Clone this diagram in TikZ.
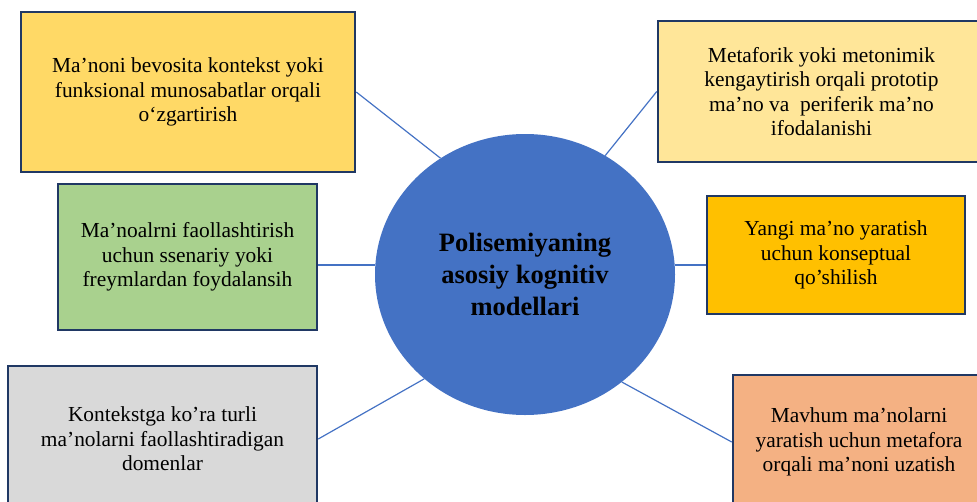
\documentclass[tikz,border=0pt]{standalone}
\usepackage{fontspec}
\setmainfont{Liberation Serif}
\usepackage{tikz}
\usetikzlibrary{shapes.geometric}

\definecolor{boxline}{HTML}{203864}
\definecolor{hubblue}{HTML}{4472C4}
\definecolor{sandfill}{HTML}{FFD966}
\definecolor{creamfill}{HTML}{FFE699}
\definecolor{leaffill}{HTML}{A9D18E}
\definecolor{amberfill}{HTML}{FFC000}
\definecolor{greyfill}{HTML}{D9D9D9}
\definecolor{peachfill}{HTML}{F4B183}

\begin{document}
\begin{tikzpicture}[
    x=1pt, y=-1pt,
    font=\fontsize{21.4}{24.5}\selectfont,
    boxst/.style={draw=boxline, line width=2.5pt, rectangle,
                  align=center, inner sep=0pt},
    hubst/.style={ellipse, fill=hubblue, draw=none,
                  minimum width=300pt, minimum height=281pt, inner sep=0pt,
                  align=center, font=\fontsize{26.5}{32}\selectfont\bfseries},
    link/.style={draw=hubblue, line width=1.2pt},
  ]
  \clip (0,0) rectangle (977,501);
  %% Hub
  \node[hubst] (hub) at (525,274.5) {Polisemiyaning\\ asosiy kognitiv\\ modellari};
  %% Left column (top to bottom)
  \node[boxst, fill=sandfill, minimum width=334pt, minimum height=160pt] (ctx) at (188,92)
    {Ma’noni bevosita kontekst yoki\\ funksional munosabatlar orqali\\ o‘zgartirish};
  \node[boxst, fill=leaffill, minimum width=259pt, minimum height=146pt] (frame) at (187.5,257)
    {Ma’noalrni faollashtirish\\ uchun ssenariy yoki\\ freymlardan foydalansih};
  \node[boxst, fill=greyfill, minimum width=309pt, minimum height=146pt] (domain) at (162.5,439)
    {Kontekstga ko’ra turli\\ ma’nolarni faollashtiradigan\\ domenlar};
  %% Right column (top to bottom)
  \node[boxst, fill=creamfill, minimum width=327pt, minimum height=141pt] (proto) at (821.5,91.5)
    {Metaforik yoki metonimik\\ kengaytirish orqali prototip\\ ma’no va \ periferik ma’no\\ ifodalanishi};
  \node[boxst, fill=amberfill, minimum width=258pt, minimum height=118pt] (blend) at (836,255)
    {Yangi ma’no yaratish\\ uchun konseptual\\ qo’shilish};
  \node[boxst, fill=peachfill, minimum width=252pt, minimum height=134pt] (extend) at (859,442)
    {Mavhum ma’nolarni\\ yaratish uchun metafora\\ orqali ma’noni uzatish};
  %% Connectors
  \draw[link] (ctx.east) -- (hub.126);
  \draw[link] (proto.west) -- (hub.56);
  \draw[link] (hub.west |- 0,265) -- (frame.east |- 0,265);
  \draw[link] (hub.east |- 0,265) -- (blend.west |- 0,265);
  \draw[link] (domain.east) -- (hub.226);
  \draw[link] (extend.west) -- (hub.312);
\end{tikzpicture}
\end{document}
